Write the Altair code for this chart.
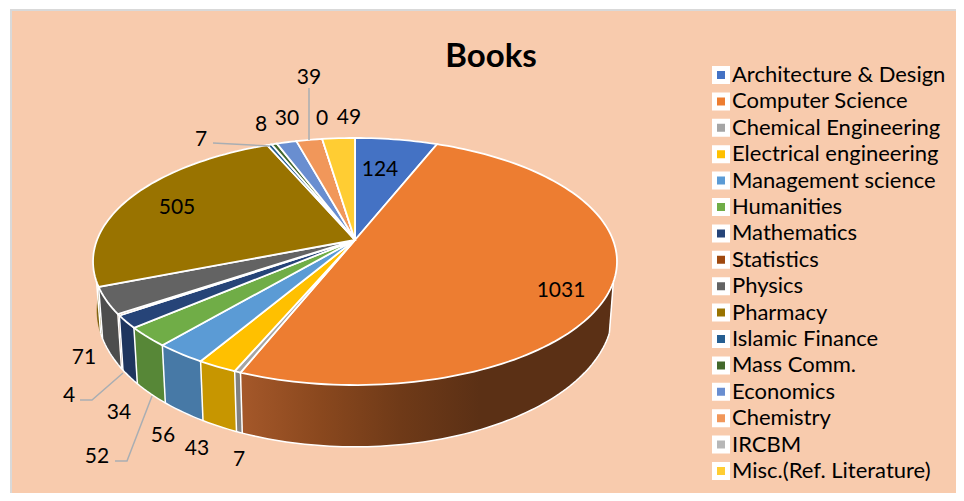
import math
import altair as alt

# ---------- data ----------
categories = ["Architecture & Design", "Computer Science", "Chemical Engineering",
              "Electrical engineering", "Management science", "Humanities", "Mathematics",
              "Statistics", "Physics", "Pharmacy", "Islamic Finance", "Mass Comm.",
              "Economics", "Chemistry", "IRCBM", "Misc.(Ref. Literature)"]
values = [124, 1031, 7, 43, 56, 52, 34, 4, 71, 505, 7, 8, 30, 39, 0, 49]
colors = ["#4472c4", "#ed7d31", "#a5a5a5", "#ffc000", "#5b9bd5", "#70ad47", "#264478",
          "#9e480e", "#636363", "#997300", "#255e91", "#43682b", "#698ed0", "#f1975a",
          "#b7b7b7", "#ffcd33"]

# ---------- layout (page pixels) ----------
OFF = 8
W, H = 948, 485
CX = 355
TOP = dict(cy=240, a=119.8, b=258, k=0.174)
BOT = dict(cy=287, a=132, b=254, k=0.174)
label_xy = [(380, 169), (561, 290), (239, 459), (197, 448), (163, 435), (97, 456), (119, 412),
            (69, 395), (84, 357), (177, 207), (201, 139), (261, 124), (287, 118), (309, 77),
            (322, 118), (349, 117)]
leaders = [[(309, 88), (309, 140)], [(213, 143), (269, 146)],
           [(80, 400), (92, 400), (123, 373)], [(115, 461), (127, 461), (152, 396)]]
cs_stops = [(240, "#a5582a"), (320, "#8a481e"), (400, "#6f3a18"), (480, "#5b3015"), (614, "#5b3015")]


def project(theta, plane):
    u, v = math.sin(theta), math.cos(theta)
    d = 1 + plane["k"] * v
    return [CX + plane["b"] * u / d - OFF, plane["cy"] - plane["a"] * v / d - OFF]


def hexmix(c1, c2, t):
    a = [int(c1[i:i + 2], 16) for i in (1, 3, 5)]
    b = [int(c2[i:i + 2], 16) for i in (1, 3, 5)]
    return "#%02x%02x%02x" % tuple(round(p + (q - p) * t) for p, q in zip(a, b))


def darker(c, f=0.78):
    return hexmix("#000000", c, f)


def feature(kind, coords, **props):
    return {"type": "Feature", "geometry": {"type": kind, "coordinates": coords}, "properties": props}


total = sum(values)
bounds = []
acc = 0
for val in values:
    bounds.append((acc / total * 2 * math.pi, (acc + val) / total * 2 * math.pi))
    acc += val

STEP = math.radians(1.5)
tops, walls, white_lines = [], [], []
cs_wall = None
VIS = -0.33
for name, col, (t0, t1) in zip(categories, colors, bounds):
    n = max(1, math.ceil((t1 - t0) / STEP))
    ang = [t0 + (t1 - t0) * i / n for i in range(n + 1)]
    ring = [[CX - OFF, TOP["cy"] - OFF]] + [project(a, TOP) for a in ang] + [[CX - OFF, TOP["cy"] - OFF]]
    tops.append(feature("Polygon", [ring], name=name))
    if t1 > t0:
        if name == "Computer Science":
            vis = [a for a in ang if math.cos(a) <= VIS]
        else:
            vis = ang
        quad = [project(a, TOP) for a in vis] + [project(a, BOT) for a in reversed(vis)]
        quad.append(quad[0])
        f = feature("Polygon", [quad], wc=darker(col))
        if name == "Computer Science":
            cs_wall = f
        else:
            walls.append((math.cos((t0 + t1) / 2), f))
    if math.cos(t0) < VIS and t0 > 0:
        white_lines.append(feature("LineString", [project(t0, TOP), project(t0, BOT)]))

walls = [f for _, f in sorted(walls, key=lambda p: -p[0])]
t_a = math.acos(VIS)
arc = [t_a + (2 * math.pi - 2 * t_a) * i / 120 for i in range(121)]
white_lines.append(feature("LineString", [project(a, BOT) for a in arc]))
white_lines.append(feature("LineString", [project(t_a, TOP), project(t_a, BOT)]))
white_lines.append(feature("LineString", [project(2 * math.pi - t_a, TOP), project(2 * math.pi - t_a, BOT)]))

proj = alt.Projection(type="identity", scale=1, translate=[0, 0]).to_dict()
bg = [[3, 2], [W + 10, 2], [W + 10, H + 10], [3, H + 10], [3, 2]]

bg_layer = alt.Chart(alt.Data(values=[feature("Polygon", [bg])])).mark_geoshape(
    fill="#f8cbad", stroke="#d9d9d9", strokeWidth=2).project(**proj)

wall_layer = alt.Chart(alt.Data(values=walls)).mark_geoshape(strokeWidth=0.6).encode(
    fill=alt.Fill("properties.wc:N", scale=None, legend=None),
    stroke=alt.Stroke("properties.wc:N", scale=None, legend=None)).project(**proj)

xs = [p[0] + OFF for p in cs_wall["geometry"]["coordinates"][0]]
xmin, xmax = min(xs), max(xs)
cs_gradient = alt.LinearGradient(
    gradient="linear", x1=0, x2=1, y1=0, y2=0,
    stops=[alt.GradientStop(offset=max(0, min(1, (x - xmin) / (xmax - xmin))), color=c) for x, c in cs_stops])
cs_layer = alt.Chart(alt.Data(values=[cs_wall])).mark_geoshape(fill=cs_gradient, strokeWidth=0).project(**proj)

line_layer = alt.Chart(alt.Data(values=white_lines)).mark_geoshape(
    filled=False, stroke="white", strokeWidth=1.5).project(**proj)

top_layer = alt.Chart(alt.Data(values=tops)).mark_geoshape(stroke="white", strokeWidth=1.8).encode(
    color=alt.Color("properties.name:N",
                    scale=alt.Scale(domain=categories, range=colors),
                    sort=None,
                    legend=alt.Legend(orient="none", legendX=702, legendY=54, title=None,
                                      symbolType="square", symbolSize=169, symbolStrokeColor="white",
                                      symbolStrokeWidth=5, symbolOpacity=1,
                                      labelFont="Lato", labelFontSize=22, labelColor="black",
                                      labelOffset=0, clipHeight=26, rowPadding=0.4,
                                      labelLimit=300, values=categories))
).project(**proj)

lead_layer = alt.Chart(alt.Data(values=[feature("LineString", [[x - OFF, y - OFF] for x, y in l]) for l in leaders])).mark_geoshape(
    filled=False, stroke="#a9aeb3", strokeWidth=1.5).project(**proj)

label_rows = [{"t": str(v), "x": x - OFF, "y": y - OFF} for v, (x, y) in zip(values, label_xy)]
text_layer = alt.Chart(alt.Data(values=label_rows)).mark_text(
    font="Lato", fontSize=21, color="black", align="center", baseline="middle", dy=1).encode(
    x=alt.X("x:Q", scale=None, axis=None), y=alt.Y("y:Q", scale=None, axis=None), text="t:N")

title_layer = alt.Chart(alt.Data(values=[{"t": "Books", "x": 491 - OFF, "y": 55 - OFF}])).mark_text(
    font="Lato", fontSize=33, fontWeight="bold", color="black", align="center", baseline="middle", dy=2).encode(
    x=alt.X("x:Q", scale=None, axis=None), y=alt.Y("y:Q", scale=None, axis=None), text="t:N")

chart = alt.layer(bg_layer, wall_layer, cs_layer, line_layer, top_layer, lead_layer, text_layer, title_layer).properties(
    width=W, height=H, padding=0, background="white"
).configure_view(stroke=None)

chart.save("out.html", embed_options={"renderer": "svg", "actions": False})
